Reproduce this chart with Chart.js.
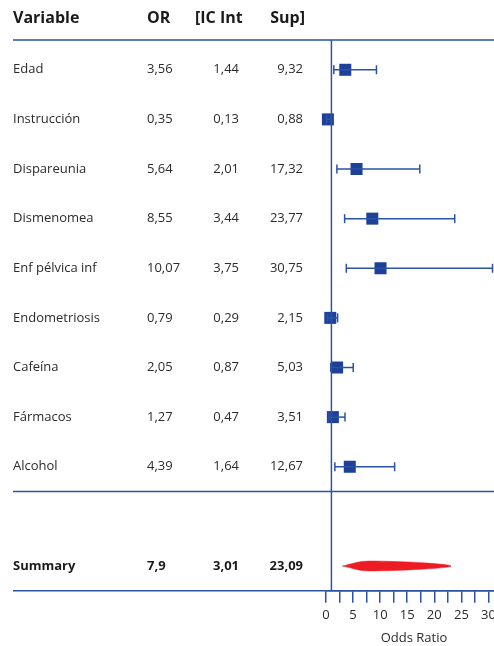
<!DOCTYPE html>
<html>
<head>
<meta charset="utf-8">
<script src="https://cdn.jsdelivr.net/npm/chart.js@4.4.1/dist/chart.umd.min.js"></script>
<style>
  html,body{margin:0;padding:0;background:#fff;overflow:hidden;}
  #wrap{position:relative;width:520px;height:646px;}
</style>
</head>
<body>
<div id="wrap"><canvas id="forest"></canvas></div>
<script>
const variables = ['Edad','Instrucción','Dispareunia','Dismenomea','Enf pélvica inf','Endometriosis','Cafeína','Fármacos','Alcohol'];
const oddsRatio = [3.56,0.35,5.64,8.55,10.07,0.79,2.05,1.27,4.39];
const icLower  = [1.44,0.13,2.01,3.44,3.75,0.29,0.87,0.47,1.64];
const icUpper  = [9.32,0.88,17.32,23.77,30.75,2.15,5.03,3.51,12.67];
const summaryLabel = 'Summary';
const summaryOR = 7.9, summaryLow = 3.01, summaryUp = 23.09;
const headers = ['Variable','OR','[IC Int','Sup]'];
const summaryRow = variables.length + 1;

const BLUE = '#2b52a3', SQ = '#1d4199', RED = '#ed1c24', TXT = '#2b2b2b';
const fmt = n => String(n).replace('.', ',');

// tabla de texto + líneas horizontales
const tablePlugin = {
  id:'tabla',
  afterDraw(c){
    const {ctx, chartArea:a, scales:{x,y}} = c;
    ctx.save();
    ctx.strokeStyle = BLUE; ctx.lineWidth = 1.5;
    [a.top, y.getPixelForValue(variables.length - 0.5), a.bottom].forEach(py=>{
      ctx.beginPath(); ctx.moveTo(13, py); ctx.lineTo(c.width, py); ctx.stroke();
    });
    ctx.textBaseline = 'middle';
    ctx.fillStyle = '#1a1a1a';
    ctx.font = 'bold 16px "Open Sans"';
    const hy = a.top - 22;
    ctx.textAlign='left';  ctx.fillText(headers[0], 13, hy); ctx.fillText(headers[1], 147, hy);
    ctx.fillText(headers[2], 195, hy);
    ctx.textAlign='right'; ctx.fillText(headers[3], 305, hy);
    const row = (lab, a1, a2, a3, py) => {
      ctx.textAlign='left';  ctx.fillText(lab, 13, py); ctx.fillText(fmt(a1), 147, py);
      ctx.textAlign='right'; ctx.fillText(fmt(a2), 239, py); ctx.fillText(fmt(a3), 303, py);
    };
    ctx.fillStyle = TXT; ctx.font = '13px "Open Sans"';
    variables.forEach((v,i)=> row(v, oddsRatio[i], icLower[i], icUpper[i], y.getPixelForValue(i)));
    ctx.fillStyle = '#1a1a1a'; ctx.font = 'bold 13px "Open Sans"';
    row(summaryLabel, summaryOR, summaryLow, summaryUp, y.getPixelForValue(summaryRow));
    ctx.restore();
  }
};

const whiskers = variables.map((v,i)=>({
  type:'scatter', showLine:true,
  data:[{x:icLower[i],y:i},{x:icUpper[i],y:i}],
  borderColor:BLUE, borderWidth:1.5,
  pointStyle:'line', rotation:90, pointRadius:4.5, pointBorderColor:BLUE, pointBorderWidth:1.5,
  clip:false
}));

const h = 0.1;
const diamond = {
  type:'scatter', showLine:true, fill:'shape', tension:0.4,
  data:[{x:summaryLow,y:summaryRow},{x:summaryOR,y:summaryRow-h},{x:summaryUp,y:summaryRow},{x:summaryOR,y:summaryRow+h},{x:summaryLow,y:summaryRow}],
  borderColor:RED, backgroundColor:RED, borderWidth:0.5, pointRadius:0
};

const refLine = {
  type:'scatter', showLine:true,
  data:[{x:1,y:-0.6},{x:1,y:10.5}],
  borderColor:BLUE, borderWidth:1.5, pointRadius:0
};

const squares = {
  type:'scatter',
  data: oddsRatio.map((o,i)=>({x:o,y:i})),
  pointStyle:'rect', pointRadius:8.5, backgroundColor:SQ, borderColor:SQ, borderWidth:0,
  clip:false
};

new Chart(document.getElementById('forest'), {
  type:'scatter',
  data:{ datasets:[refLine, ...whiskers, squares, diamond] },
  options:{
    responsive:true, maintainAspectRatio:false, animation:false,
    layout:{ padding:{left:326, top:40, right:18, bottom:0} },
    plugins:{ legend:{display:false}, tooltip:{enabled:false} },
    scales:{
      x:{
        type:'linear', min:0, max:32.5,
        border:{color:BLUE, width:1.5},
        grid:{drawOnChartArea:false, color:BLUE, lineWidth:1.5, tickLength:12},
        ticks:{stepSize:2.5, autoSkip:false, maxRotation:0, padding:5, color:TXT, font:{family:'Open Sans', size:13},
               callback:v => v % 5 === 0 ? v : ''},
        title:{display:true, text:'Odds Ratio', color:TXT, font:{family:'Open Sans', size:13}, padding:{top:2,bottom:0}}
      },
      y:{ type:'linear', display:false, reverse:true, min:-0.6, max:10.5 }
    }
  },
  plugins:[tablePlugin]
});
</script>
</body>
</html>
